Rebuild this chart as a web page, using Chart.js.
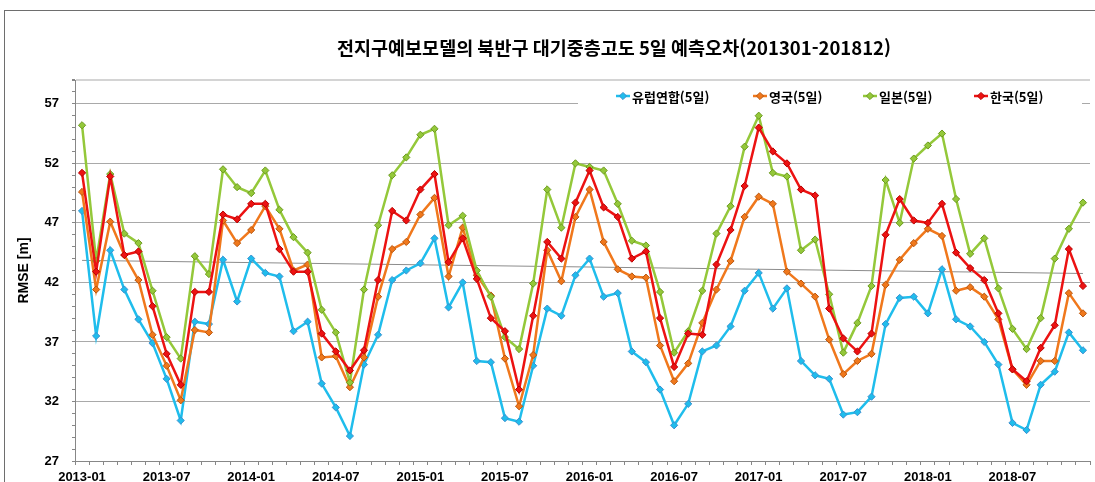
<!DOCTYPE html>
<html lang="ko">
<head>
<meta charset="utf-8">
<script src="https://cdn.jsdelivr.net/npm/chart.js@4.4.1/dist/chart.umd.min.js"></script>
<style>
  html, body { margin: 0; padding: 0; background: #fff; }
  #wrap { width: 1095px; height: 482px; position: relative; }
</style>
</head>
<body>
<div id="wrap"><canvas id="rmseChart"></canvas></div>
<script>
// 월별 RMSE, 2013-01 ~ 2018-12 (72개월)
const chartTitle = '전지구예보모델의 북반구 대기중층고도 5일 예측오차(201301-201812)';
const seriesNames = ['유럽연합(5일)', '영국(5일)', '일본(5일)', '한국(5일)'];
const tickLabels = ['2013-01', '2013-07', '2014-01', '2014-07', '2015-01', '2015-07',
                    '2016-01', '2016-07', '2017-01', '2017-07', '2018-01', '2018-07'];

const euRmse = [
  48.0, 37.5, 44.7, 41.4, 38.9, 36.9, 33.9, 30.4, 38.7, 38.5, 43.9, 40.4,
  44.0, 42.8, 42.5, 37.9, 38.7, 33.5, 31.5, 29.1, 35.1, 37.6, 42.2, 43.0,
  43.6, 45.7, 39.9, 42.0, 35.4, 35.3, 30.6, 30.3, 35.0, 39.8, 39.2, 42.6,
  44.0, 40.8, 41.1, 36.2, 35.3, 33.0, 30.0, 31.8, 36.2, 36.7, 38.3, 41.3,
  42.8, 39.8, 41.5, 35.4, 34.2, 33.9, 30.9, 31.1, 32.4, 38.5, 40.7, 40.8,
  39.4, 43.1, 38.9, 38.3, 37.0, 35.1, 30.2, 29.6, 33.4, 34.5, 37.8, 36.3
];
const ukRmse = [
  49.6, 41.4, 47.1, 44.3, 42.2, 37.6, 35.0, 32.1, 38.0, 37.8, 47.2, 45.3,
  46.4, 48.4, 46.5, 43.0, 43.5, 35.7, 35.8, 33.2, 35.7, 40.8, 44.8, 45.4,
  47.7, 49.1, 42.5, 46.6, 42.6, 40.9, 35.6, 31.6, 35.9, 44.7, 42.1, 47.5,
  49.8, 45.4, 43.1, 42.5, 42.4, 36.7, 33.7, 35.2, 38.6, 41.4, 43.8, 47.5,
  49.2, 48.6, 42.9, 41.9, 40.8, 37.2, 34.3, 35.4, 36.0, 41.8, 43.9, 45.3,
  46.5, 45.9, 41.3, 41.6, 40.8, 38.9, 34.7, 33.4, 35.4, 35.4, 41.1, 39.4
];
const jpRmse = [
  55.2, 43.8, 51.1, 46.1, 45.3, 41.3, 37.4, 35.6, 44.2, 42.7, 51.5, 50.0,
  49.5, 51.4, 48.1, 45.8, 44.5, 39.7, 37.8, 33.6, 41.4, 46.8, 51.0, 52.5,
  54.4, 54.9, 46.8, 47.6, 43.0, 40.8, 37.4, 36.4, 41.9, 49.8, 46.6, 52.0,
  51.7, 51.4, 48.6, 45.5, 45.1, 41.2, 36.1, 37.9, 41.3, 46.1, 48.4, 53.4,
  56.0, 51.2, 50.9, 44.7, 45.6, 41.0, 36.1, 38.6, 41.7, 50.6, 47.0, 52.4,
  53.5, 54.5, 49.0, 44.4, 45.7, 41.5, 38.1, 36.4, 39.0, 44.0, 46.5, 48.7
];
const krRmse = [
  51.2, 42.9, 50.9, 44.3, 44.6, 40.0, 36.0, 33.4, 41.2, 41.2, 47.7, 47.3,
  48.6, 48.6, 44.8, 42.9, 42.9, 37.7, 36.2, 34.6, 36.3, 42.2, 48.0, 47.2,
  49.8, 51.1, 43.7, 45.7, 42.3, 39.0, 37.9, 33.0, 39.2, 45.4, 44.0, 48.7,
  51.4, 48.3, 47.5, 44.0, 44.6, 39.0, 34.9, 37.7, 37.6, 43.5, 46.4, 50.1,
  55.0, 53.0, 52.0, 49.8, 49.3, 39.8, 37.3, 36.2, 37.7, 46.0, 49.0, 47.2,
  47.0, 48.6, 44.5, 43.2, 42.2, 39.4, 34.7, 33.7, 36.5, 38.4, 44.8, 41.7
];
// 추세선 시작/끝 값
const trendEnds = [43.85, 42.75];

const lineColors = ['#1fbdec', '#f0781c', '#94c83a', '#ec1212'];
const markerEdges = ['#3a8fcf', '#b8560e', '#6b9a1e', '#b80000'];

const monthCount = euRmse.length;
const toPoints = arr => arr.map((v, i) => ({ x: i + 0.5, y: v }));

const allSeries = [euRmse, ukRmse, jpRmse, krRmse];
const drawOrder = [3, 2, 1, 0];   // 한국이 맨 위

const datasets = allSeries.map((vals, k) => ({
  label: seriesNames[k],
  data: toPoints(vals),
  borderColor: lineColors[k],
  backgroundColor: lineColors[k],
  borderWidth: 2.5,
  pointStyle: 'rectRot',
  pointRadius: 3.6,
  pointBorderWidth: 1,
  pointBorderColor: markerEdges[k],
  pointBackgroundColor: lineColors[k],
  tension: 0,
  order: drawOrder[k]
}));

datasets.push({
  label: 'trend',
  data: [{ x: 0.5, y: trendEnds[0] }, { x: monthCount - 0.5, y: trendEnds[1] }],
  borderColor: '#8c8c8c',
  borderWidth: 1,
  pointRadius: 0,
  order: 5
});

// 제목, 범례, 바깥 테두리
const decorations = {
  id: 'decorations',
  beforeDraw(chart) {
    const c = chart.ctx;
    c.save();
    c.strokeStyle = '#6e6e6e';
    c.lineWidth = 1;
    c.strokeRect(4.5, 10.5, 1300, 600);
    c.restore();
  },
  afterDraw(chart) {
    const c = chart.ctx;
    c.save();
    c.fillStyle = '#000';
    c.textAlign = 'center';
    c.textBaseline = 'middle';
    c.font = 'bold 18.5px "Noto Sans CJK KR"';
    c.fillText(chartTitle, 614, 48);

    // 범례 (흰 배경이 격자선을 가림)
    c.fillStyle = '#fff';
    c.fillRect(578, 86, 504, 22);
    const xs = [616, 753, 863, 974];
    const y = 96;
    c.font = 'bold 13px "Noto Sans CJK KR"';
    c.textAlign = 'left';
    for (let k = 0; k < 4; k++) {
      const ds = chart.data.datasets[k];
      c.strokeStyle = ds.borderColor;
      c.lineWidth = 2.5;
      c.beginPath();
      c.moveTo(xs[k], y);
      c.lineTo(xs[k] + 14, y);
      c.stroke();
      const mx = xs[k] + 7;
      c.fillStyle = ds.pointBackgroundColor;
      c.strokeStyle = ds.pointBorderColor;
      c.lineWidth = 1;
      c.beginPath();
      c.moveTo(mx, y - 3.6);
      c.lineTo(mx + 3.6, y);
      c.lineTo(mx, y + 3.6);
      c.lineTo(mx - 3.6, y);
      c.closePath();
      c.fill();
      c.stroke();
      c.fillStyle = '#000';
      c.fillText(ds.label, xs[k] + 16, y + 1);
    }
    c.restore();
  }
};

const ctx = document.getElementById('rmseChart').getContext('2d');
new Chart(ctx, {
  type: 'line',
  data: { datasets: datasets },
  plugins: [decorations],
  options: {
    responsive: true,
    maintainAspectRatio: false,
    animation: false,
    layout: { padding: { top: 80, left: 0, right: 0, bottom: 0 } },
    plugins: {
      legend: { display: false },
      title: { display: false },
      tooltip: { enabled: false }
    },
    scales: {
      x: {
        type: 'linear',
        min: 0,
        max: monthCount,
        afterBuildTicks: scale => {
          scale.ticks = [];
          for (let v = 0; v <= monthCount; v++) scale.ticks.push({ value: v });
        },
        afterFit: scale => { scale.height = 21; },
        border: { color: '#878787', width: 1 },
        grid: { drawOnChartArea: false, tickLength: 4, tickColor: '#878787' },
        ticks: {
          autoSkip: false,
          maxRotation: 0,
          padding: 5,
          labelOffset: 7,
          color: '#000',
          font: { family: 'Liberation Sans, Arial, sans-serif', size: 13, weight: 'bold' },
          callback: v => (v % 6 === 0 && v < monthCount) ? tickLabels[v / 6] : ''
        }
      },
      y: {
        min: 27,
        max: 59,
        afterBuildTicks: scale => {
          scale.ticks = [];
          for (let v = 27; v <= 59; v++) scale.ticks.push({ value: v });
        },
        afterFit: scale => { scale.width = 75; },
        border: { color: '#878787', width: 1 },
        grid: {
          tickLength: 3,
          tickColor: '#878787',
          color: c => c.tick.value === 59 ? '#d4d4d4' : ((c.tick.value - 27) % 5 === 0 ? '#a9a9a9' : 'rgba(0,0,0,0)'),
          lineWidth: c => c.tick.value === 59 ? 2 : 1
        },
        ticks: {
          autoSkip: false,
          padding: 13,
          color: '#000',
          font: { family: 'Liberation Sans, Arial, sans-serif', size: 13, weight: 'bold' },
          callback: v => ((v - 27) % 5 === 0 && v < 59) ? String(v) : ''
        },
        title: {
          display: true,
          text: 'RMSE [m]',
          color: '#000',
          padding: { top: 16, bottom: 0 },
          font: { family: 'Liberation Sans, Arial, sans-serif', size: 14, weight: 'bold' }
        }
      }
    }
  }
});
</script>
</body>
</html>
